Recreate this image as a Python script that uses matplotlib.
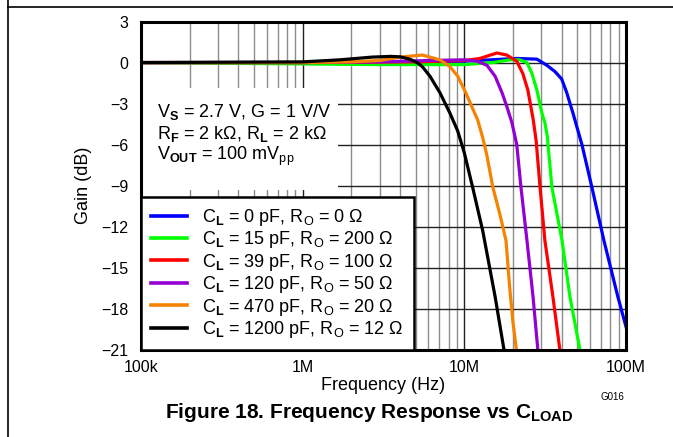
import matplotlib
matplotlib.use("Agg")
import matplotlib.pyplot as plt
from matplotlib.lines import Line2D
from matplotlib.patches import Rectangle
from matplotlib.ticker import FixedLocator, NullFormatter

plt.rcParams["font.family"] = ["Liberation Sans", "DejaVu Sans"]
plt.rcParams["mathtext.fontset"] = "custom"
plt.rcParams["mathtext.rm"] = "Liberation Sans"
plt.rcParams["mathtext.it"] = "Liberation Sans"
plt.rcParams["mathtext.bf"] = "Liberation Sans:bold"

# Curves (frequency in Hz, gain in dB)
freq_0pf = [1e5, 1e6, 1e7, 2.11e7, 2.81e7, 3.24e7, 3.63e7, 4.0e7, 4.3e7, 4.7e7, 5.34e7, 6.15e7, 7.3e7, 8.9e7, 1e8]
gain_0pf = [0, 0, 0.1, 0.3, 0.25, -0.2, -0.65, -1.2, -2.2, -3.7, -6.0, -9.1, -13, -17.1, -19.3]

freq_15pf = [1e5, 1e6, 3e6, 1e7, 1.5e7, 1.91e7, 2.2e7, 2.44e7, 2.62e7, 2.81e7, 3.02e7, 3.15e7, 3.26e7, 3.48e7, 4.02e7, 4.5e7, 5.19e7]
gain_15pf = [0, -0.1, -0.15, -0.15, 0, 0.2, 0.2, 0, -0.8, -2.0, -3.7, -4.4, -5.4, -9.1, -13, -17.1, -21]

freq_39pf = [1e5, 1e6, 5e6, 1e7, 1.25e7, 1.45e7, 1.59e7, 1.83e7, 2.11e7, 2.3e7, 2.47e7, 2.67e7, 2.78e7, 2.94e7, 3.15e7, 3.53e7, 3.9e7]
gain_39pf = [0, 0, 0.05, 0.15, 0.3, 0.55, 0.7, 0.55, 0.1, -0.8, -2.0, -4.2, -5.7, -9.1, -13, -17.1, -21]

freq_120pf = [1e5, 1e6, 3e6, 6e6, 1e7, 1.2e7, 1.38e7, 1.55e7, 1.71e7, 1.83e7, 1.97e7, 2.11e7, 2.24e7, 2.44e7, 2.66e7, 2.85e7]
gain_120pf = [0, 0, 0.05, 0.15, 0.2, 0.1, -0.2, -1.0, -2.2, -3.2, -4.4, -6.0, -9.1, -13, -17.1, -21]

freq_470pf = [1e5, 1e6, 2e6, 3e6, 4e6, 5.5e6, 7.06e6, 8.15e6, 9.1e6, 1.02e7, 1.21e7, 1.3e7, 1.38e7, 1.5e7, 1.66e7, 1.81e7, 1.91e7, 2.0e7, 2.1e7]
gain_470pf = [0, 0, 0.05, 0.15, 0.4, 0.55, 0.2, -0.3, -1.0, -2.2, -4.2, -5.5, -6.8, -9.1, -11.1, -13, -16.5, -19, -21]

freq_1200pf = [1e5, 1e6, 1.7e6, 2.7e6, 3.5e6, 4.0e6, 4.6e6, 5.1e6, 5.5e6, 6.13e6, 7.06e6, 8.15e6, 9.1e6, 1e7, 1.13e7, 1.3e7, 1.55e7, 1.76e7]
gain_1200pf = [0, 0.05, 0.2, 0.4, 0.45, 0.42, 0.25, 0, -0.3, -1.0, -2.2, -3.7, -5.0, -6.6, -9.2, -12.3, -17.1, -21]

labels = [
    r"C$_{\mathbf{L}}$ = 0 pF, R$_{\mathrm{O}}$ = 0 Ω",
    r"C$_{\mathbf{L}}$ = 15 pF, R$_{\mathrm{O}}$ = 200 Ω",
    r"C$_{\mathbf{L}}$ = 39 pF, R$_{\mathrm{O}}$ = 100 Ω",
    r"C$_{\mathbf{L}}$ = 120 pF, R$_{\mathrm{O}}$ = 50 Ω",
    r"C$_{\mathbf{L}}$ = 470 pF, R$_{\mathrm{O}}$ = 20 Ω",
    r"C$_{\mathbf{L}}$ = 1200 pF, R$_{\mathrm{O}}$ = 12 Ω",
]
colors = ["#0000ff", "#00ff00", "#ff0000", "#9400d3", "#f58200", "#000000"]

y_ticks = [3, 0, -3, -6, -9, -12, -15, -18, -21]
y_tick_labels = ["3", "0", "−3", "−6", "−9", "−12", "−15", "−18", "−21"]
x_ticks = [1e5, 1e6, 1e7, 1e8]
x_tick_labels = ["100k", "1M", "10M", "100M"]

fig = plt.figure(figsize=(6.73, 4.37), dpi=100)
ax = fig.add_axes([141 / 673, 1 - 350 / 437, 485 / 673, 328.5 / 437])

series = [
    (freq_0pf, gain_0pf),
    (freq_15pf, gain_15pf),
    (freq_39pf, gain_39pf),
    (freq_120pf, gain_120pf),
    (freq_470pf, gain_470pf),
    (freq_1200pf, gain_1200pf),
]
for (f, g), c, lab in zip(series, colors, labels):
    ax.plot(f, g, color=c, lw=2.3, label=lab, zorder=3, solid_joinstyle="round")

ax.set_xscale("log")
ax.set_xlim(1e5, 1e8)
ax.set_ylim(-21, 3)
ax.set_xticks(x_ticks)
ax.set_xticklabels(x_tick_labels)
minor = [m * d for d in [1e5, 1e6, 1e7] for m in range(2, 10)]
ax.xaxis.set_minor_locator(FixedLocator(minor))
ax.xaxis.set_minor_formatter(NullFormatter())
ax.set_yticks(y_ticks)
ax.set_yticklabels(y_tick_labels)
ax.tick_params(axis="both", which="both", length=0, labelsize=11.5)
ax.tick_params(axis="y", pad=9)
ax.tick_params(axis="x", pad=7)

ax.set_axisbelow(True)
ax.grid(True, which="major", color="#222222", lw=1.0)
ax.grid(True, which="minor", axis="x", color="#8c8c8c", lw=1.0)
for s in ax.spines.values():
    s.set_linewidth(2.2)
    s.set_zorder(5)

ax.set_xlabel("Frequency (Hz)", fontsize=13, labelpad=2)
ax.set_ylabel("Gain (dB)", fontsize=13, labelpad=7)

# white area behind the conditions text
ax.add_patch(Rectangle((0, (350 - 190) / 328.5), (338 - 141) / 485, (190 - 88) / 328.5,
                       transform=ax.transAxes, facecolor="white", edgecolor="none", zorder=2))
cond = [
    r"V$_{\mathbf{S}}$ = 2.7 V, G = 1 V/V",
    r"R$_{\mathbf{F}}$ = 2 kΩ, R$_{\mathbf{L}}$ = 2 kΩ",
    r"V$_{\mathbf{OUT}}$ = 100 mV$_{\mathrm{pp}}$",
]
for i, t in enumerate(cond):
    ax.text((157 - 141) / 485, (350 - (117 + 21.5 * i)) / 328.5, t, transform=ax.transAxes,
            fontsize=13, va="baseline", ha="left", zorder=4)

leg = ax.legend(loc="lower left", bbox_to_anchor=(0, 0), borderaxespad=0, fontsize=13,
                frameon=True, fancybox=False, handlelength=2.0, handletextpad=0.85,
                labelspacing=0.08, borderpad=0.55)
leg.get_frame().set_edgecolor("black")
leg.get_frame().set_linewidth(1.8)
leg.get_frame().set_alpha(1)
leg.set_zorder(6)
for h in leg.get_lines():
    h.set_linewidth(2.6)

fig.text(612 / 673, 1 - 397 / 437, "G016", fontsize=7, ha="center", va="center")
fig.text(369 / 673, 1 - 413 / 437, r"Figure 18. Frequency Response vs C$_{\mathbf{LOAD}}$",
         fontsize=15, fontweight="bold", ha="center", va="center")

fig.add_artist(Line2D([8 / 673, 8 / 673], [0, 1], transform=fig.transFigure, color="black", lw=1.2))
fig.add_artist(Line2D([8 / 673, 1], [1 - 7 / 437, 1 - 7 / 437], transform=fig.transFigure,
                      color="black", lw=1.2))

fig.savefig("out.png", dpi=100)
